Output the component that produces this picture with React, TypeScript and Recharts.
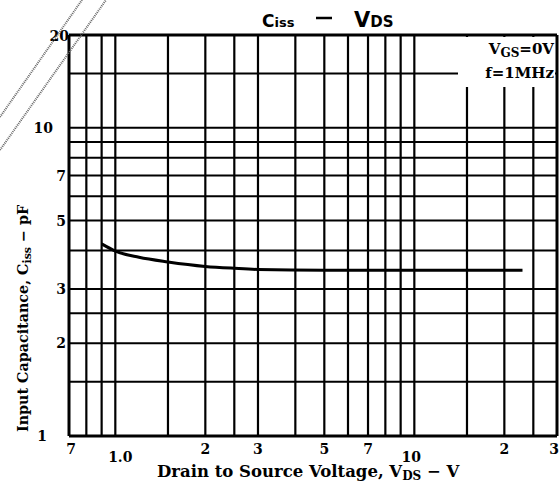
import React from "react";
import { LineChart, Line, XAxis, YAxis, ReferenceLine } from "recharts";

const vdsTicks = [0.7, 1, 2, 3, 5, 7, 10, 20, 30];
const vdsTickLabels = ["7", "1.0", "2", "3", "5", "7", "10", "2", "3"];
const vdsGrid = [0.8, 0.9, 1, 1.5, 2, 2.5, 3, 4, 5, 6, 7, 8, 9, 10, 15, 20, 25];
const cissTicks = [1, 2, 3, 5, 7, 10, 20];
const cissTickLabels = ["1", "2", "3", "5", "7", "10", "20"];
const cissGrid = [1.5, 2, 2.5, 3, 4, 5, 6, 7, 8, 9, 10, 15];
const curveVds = [0.9, 1.0, 1.2, 1.5, 2, 2.5, 3, 5, 10, 23];
const curveCiss = [4.2, 3.98, 3.8, 3.67, 3.55, 3.5, 3.47, 3.45, 3.45, 3.45];

const data = curveVds.map((v, i) => ({ vds: v, ciss: curveCiss[i] }));

const FONT = "'DejaVu Serif', serif";
const W = 560;
const H = 494;
const M = { top: 35, right: 3, left: 0, bottom: 0 };
const YW = 69;
const XH = 58;

const XTick = (props: any) => {
  const { x, y, payload } = props;
  const i = vdsTicks.indexOf(payload.value);
  const label = i >= 0 ? vdsTickLabels[i] : "";
  const low = payload.value === 1 || payload.value === 10;
  let dx = 0;
  if (payload.value === 1) dx = 5;
  if (payload.value === 10) dx = -3;
  if (payload.value === 30) dx = -3;
  if (payload.value === 0.7) dx = 2;
  return (
    <text
      x={x + dx}
      y={y + (low ? 24 : 16)}
      textAnchor="middle"
      fontFamily={FONT}
      fontWeight="bold"
      fontSize={14}
      fill="#000"
    >
      {label}
    </text>
  );
};

const YTick = (props: any) => {
  const { x, y, payload } = props;
  const i = cissTicks.indexOf(payload.value);
  const label = i >= 0 ? cissTickLabels[i] : "";
  let dx = -1;
  if (payload.value === 10) dx = -14;
  if (payload.value === 1) dx = -20;
  if (payload.value === 20) dx = 2;
  const dy = payload.value === 20 ? 6 : 5;
  return (
    <text
      x={x + dx}
      y={y + dy}
      textAnchor="end"
      fontFamily={FONT}
      fontWeight="bold"
      fontSize={14}
      fill="#000"
    >
      {label}
    </text>
  );
};

export default function App() {
  return (
    <div style={{ position: "absolute", left: 0, top: 0, width: W, height: H, background: "#fff" }}>
      <LineChart width={W} height={H} data={data} margin={M}>
        <XAxis
          dataKey="vds"
          type="number"
          scale="log"
          domain={[0.7, 30]}
          allowDataOverflow
          ticks={vdsTicks}
          tick={<XTick />}
          tickLine={false}
          axisLine={false}
          tickSize={0}
          height={XH}
          interval={0}
        />
        <YAxis
          dataKey="ciss"
          type="number"
          scale="log"
          domain={[1, 20]}
          allowDataOverflow
          ticks={cissTicks}
          tick={<YTick />}
          tickLine={false}
          axisLine={false}
          tickSize={0}
          width={YW}
          interval={0}
        />
        {cissGrid.map((v) => (
          <ReferenceLine key={"h" + v} y={v} stroke="#000" strokeWidth={2} />
        ))}
        {vdsGrid.map((v) => (
          <ReferenceLine key={"v" + v} x={v} stroke="#000" strokeWidth={2.2} />
        ))}
        <ReferenceLine x={0.7} stroke="#000" strokeWidth={3} />
        <ReferenceLine x={30} stroke="#000" strokeWidth={3} />
        <ReferenceLine y={1} stroke="#000" strokeWidth={3} />
        <ReferenceLine y={20} stroke="#000" strokeWidth={3} />
        <Line
          dataKey="ciss"
          type="monotone"
          stroke="#000"
          strokeWidth={3}
          dot={false}
          isAnimationActive={false}
        />
      </LineChart>
      <svg
        width={W}
        height={H}
        style={{ position: "absolute", left: 0, top: 0, pointerEvents: "none" }}
      >
        <line x1={0} y1={117} x2={82} y2={0} stroke="#666" strokeWidth={2} strokeDasharray="1 1" />
        <line x1={0} y1={150} x2={106} y2={0} stroke="#666" strokeWidth={2} strokeDasharray="1 1" />
        <text x={262} y={27} fontFamily="'DejaVu Sans', sans-serif" fontWeight="bold" fontSize={17} fill="#000">
          C<tspan fontSize={13}>iss</tspan>
        </text>
        <line x1={316} y1={18} x2={332} y2={18} stroke="#000" strokeWidth={2.5} />
        <text x={354} y={27} fontFamily="'DejaVu Sans', sans-serif" fontWeight="bold" fontSize={21} fill="#000">
          V<tspan fontSize={15}>DS</tspan>
        </text>
        <rect x={458} y={37} width={97} height={50} fill="#fff" />
        <text x={554} y={54} textAnchor="end" fontFamily={FONT} fontWeight="bold" fontSize={15} fill="#000">
          V<tspan fontSize={12} dy={3}>GS</tspan>
          <tspan dy={-3}>=0V</tspan>
        </text>
        <text x={554} y={78} textAnchor="end" fontFamily={FONT} fontWeight="bold" fontSize={15} fill="#000">
          f=1MHz
        </text>
        <text
          x={157}
          y={477}
          fontFamily={FONT}
          fontWeight="bold"
          fontSize={16.5}
          fill="#000"
        >
          Drain to Source Voltage, V<tspan fontSize={12} dy={3}>DS</tspan>
          <tspan dy={-3}> − V</tspan>
        </text>
        <text
          transform="translate(28,432) rotate(-90)"
          x={0}
          y={0}
          fontFamily={FONT}
          fontWeight="bold"
          fontSize={14.3}
          fill="#000"
        >
          Input Capacitance, C<tspan fontSize={11} dy={3}>iss</tspan>
          <tspan dy={-3}> − pF</tspan>
        </text>
      </svg>
    </div>
  );
}
